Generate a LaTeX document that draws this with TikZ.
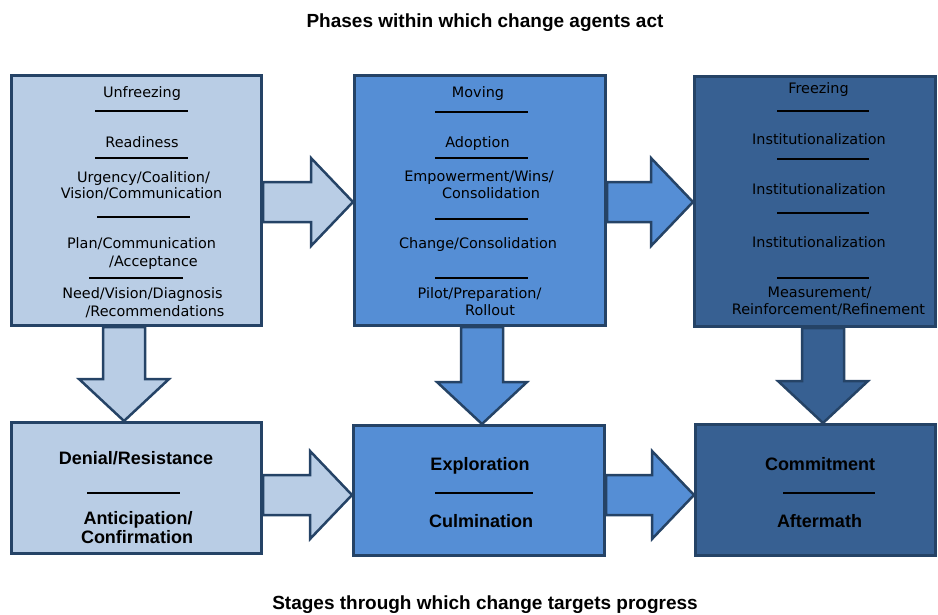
\documentclass[tikz,border=0pt]{standalone}
\usepackage{fontspec}
\setmainfont{DejaVu Sans}
\newfontfamily\libsans{Liberation Sans}
\usetikzlibrary{calc}
\definecolor{cLight}{HTML}{B9CDE5}
\definecolor{cMid}{HTML}{558ED5}
\definecolor{cDark}{HTML}{376092}
\definecolor{cEdge}{HTML}{254366}
\newcommand\hArrowX[4]{%
  \coordinate (#2#3s) at (#2.east |- 0,#4);
  \coordinate (#2#3t) at (#3.west |- 0,#4);
  \draw[#1] ($(#2#3s)+(0,-20)$) -- ($(#2#3t)+(-42,-20)$) -- ($(#2#3t)+(-42,-44)$) -- (#2#3t)
    -- ($(#2#3t)+(-42,44)$) -- ($(#2#3t)+(-42,20)$) -- ($(#2#3s)+(0,20)$) -- cycle;}
\newcommand\vArrowX[4]{%
  \coordinate (#2#3s) at (#2.south -| #4,0);
  \coordinate (#2#3t) at (#3.north -| #4,0);
  \draw[#1] ($(#2#3s)+(-21,0)$) -- ($(#2#3t)+(-21,-42)$) -- ($(#2#3t)+(-45,-42)$) -- (#2#3t)
    -- ($(#2#3t)+(45,-42)$) -- ($(#2#3t)+(21,-42)$) -- ($(#2#3s)+(21,0)$) -- cycle;}
\tikzset{
  box/.style={draw=cEdge, line width=3pt, inner sep=0pt},
  arr/.style={draw=cEdge, line width=2.5pt, line join=miter},
  txt/.style={inner sep=0pt, font=\fontsize{14.4}{17}\selectfont, text height=10.5pt, text depth=0pt},
  btxt/.style={inner sep=0pt, font=\libsans\bfseries\fontsize{18}{21}\selectfont, text height=12.9pt, text depth=0pt},
  ttl/.style={inner sep=0pt, font=\libsans\bfseries\fontsize{19}{22}\selectfont, text height=13.6pt, text depth=0pt},
  sep/.style={line width=2pt, black}
}
\begin{document}
\begin{tikzpicture}[x=1pt, y=-1pt]
\useasboundingbox (0,0) rectangle (938,614);
% boxes
\node[box, fill=cLight, minimum width=250pt, minimum height=250pt] (b1) at (136.5,200.5) {};
\node[box, fill=cMid,   minimum width=251pt, minimum height=250pt] (b2) at (480,200.5) {};
\node[box, fill=cDark,  minimum width=241pt, minimum height=250pt] (b3) at (815,201.5) {};
\node[box, fill=cLight, minimum width=250pt, minimum height=131pt] (b4) at (136.5,488) {};
\node[box, fill=cMid,   minimum width=251pt, minimum height=130pt] (b5) at (479,490.5) {};
\node[box, fill=cDark,  minimum width=240pt, minimum height=131pt] (b6) at (815.5,490) {};
% arrows
\hArrowX{arr, fill=cLight}{b1}{b2}{202}
\hArrowX{arr, fill=cMid}{b2}{b3}{202}
\hArrowX{arr, fill=cLight}{b4}{b5}{495}
\hArrowX{arr, fill=cMid}{b5}{b6}{495}
\vArrowX{arr, fill=cLight}{b1}{b4}{124}
\vArrowX{arr, fill=cMid}{b2}{b5}{482}
\vArrowX{arr, fill=cDark}{b3}{b6}{823}
% titles
\node[ttl] (title) at (485,21) {Phases within which change agents act};
\node[ttl] (foot) at (485,603) {Stages through which change targets progress};
% box 1 text
\node[txt] (a1) at (142,92) {Unfreezing};
\node[txt] (a2) at (142,142) {Readiness};
\node[txt] (a3) at (143.5,177) {Urgency/Coalition/};
\node[txt] (a4) at (141.5,193) {Vision/Communication};
\node[txt] (a5) at (141.5,243) {Plan/Communication};
\node[txt] (a6) at (153.5,261) {/Acceptance};
\node[txt] (a7) at (142.5,293) {Need/Vision/Diagnosis};
\node[txt] (a8) at (155,311) {/Recommendations};
\draw[sep] (95,111) -- (188,111);
\draw[sep] (95,158) -- (188,158);
\draw[sep] (97,217) -- (190,217);
\draw[sep] (89,278) -- (183,278);
% box 2 text
\node[txt] (m1) at (478,92) {Moving};
\node[txt] (m2) at (477.5,142) {Adoption};
\node[txt] (m3) at (479,176) {Empowerment/Wins/};
\node[txt] (m4) at (491,193) {Consolidation};
\node[txt] (m5) at (478,243) {Change/Consolidation};
\node[txt] (m6) at (479.5,293) {Pilot/Preparation/};
\node[txt] (m7) at (490,310) {Rollout};
\draw[sep] (435,112) -- (528,112);
\draw[sep] (435,158) -- (528,158);
\draw[sep] (435,219) -- (528,219);
\draw[sep] (435,278) -- (528,278);
% box 3 text
\node[txt] (f1) at (818.5,88) {Freezing};
\node[txt] (f2) at (819,139) {Institutionalization};
\node[txt] (f3) at (819,189) {Institutionalization};
\node[txt] (f4) at (819,242) {Institutionalization};
\node[txt] (f5) at (819.5,292) {Measurement/};
\node[txt] (f6) at (828.5,309) {Reinforcement/Refinement};
\draw[sep] (777,111) -- (869,111);
\draw[sep] (777,159) -- (869,159);
\draw[sep] (777,213) -- (869,213);
\draw[sep] (777,278) -- (869,278);
% bottom boxes text
\node[btxt] (d1) at (136,458) {Denial/Resistance};
\node[btxt] (d2) at (138,518) {Anticipation/};
\node[btxt] (d3) at (137,537) {Confirmation};
\draw[sep] (87,493) -- (180,493);
\node[btxt] (e1) at (480,464) {Exploration};
\node[btxt] (e2) at (481,521) {Culmination};
\draw[sep] (435,493) -- (533,493);
\node[btxt] (c1) at (820,464) {Commitment};
\node[btxt] (c2) at (819.5,521) {Aftermath};
\draw[sep] (783,493) -- (875,493);
\end{tikzpicture}
\end{document}
